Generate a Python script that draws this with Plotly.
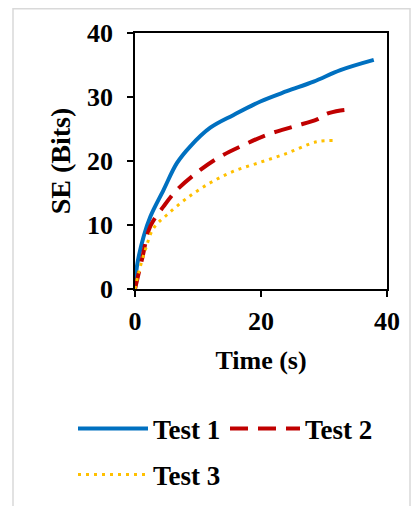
import plotly.graph_objects as go

t1_x = [0, 0.3, 1.37, 2.43, 4.54, 6.67, 8.78, 11.95, 15.65, 19.9, 24.1, 28.35, 32.6, 37.9]
t1_y = [0, 3.5, 8.2, 11.3, 15.5, 19.7, 22.3, 25.2, 27.2, 29.3, 30.9, 32.4, 34.2, 35.8]

t2_x = [0, 1.1, 2.43, 4.54, 6.67, 10.37, 13.54, 17.24, 20.95, 25.2, 28.9, 30.5, 32.6, 34.6]
t2_y = [0, 4.6, 9.8, 12.9, 15.5, 18.6, 20.7, 22.5, 24.1, 25.4, 26.5, 27.4, 27.9, 28.1]

t3_x = [0, 0.57, 1.63, 2.95, 5.08, 8.25, 11.95, 15.65, 19.9, 24.1, 27.8, 29.4, 31.5]
t3_y = [0, 2.5, 6.1, 9.5, 11.6, 14.2, 16.6, 18.4, 19.8, 21.2, 22.7, 23.1, 23.2]

names = ["Test 1", "Test 2", "Test 3"]
colors = ["#0070C0", "#C00000", "#FFC000"]

FONT = "Liberation Serif"
W, H = 411, 498
L, T = 127, 25
PW, PH = 252, 256


def px(xf):
    return (xf - L) / PW


def py(yf):
    return (T + PH - yf) / PH


fig = go.Figure()
fig.add_trace(go.Scatter(x=t1_x, y=t1_y, mode="lines", name=names[0],
                         line=dict(color=colors[0], width=4, shape="spline"), legend="legend"))
fig.add_trace(go.Scatter(x=t2_x, y=t2_y, mode="lines", name=names[1],
                         line=dict(color=colors[1], width=4, dash="18px,10px", shape="spline"), legend="legend3"))
fig.add_trace(go.Scatter(x=t3_x, y=t3_y, mode="lines", name=names[2],
                         line=dict(color=colors[2], width=3, dash="3px,5px", shape="spline"), legend="legend2"))

axis_common = dict(
    showgrid=False, zeroline=False, showline=True, linecolor="black", linewidth=1.5,
    mirror=True, ticks="outside", ticklen=6, tickwidth=1.5, tickcolor="black",
    tickfont=dict(family=FONT, size=26, color="black", weight="bold"),
)

legfont = dict(family=FONT, size=27, color="black", weight="bold")
leg_common = dict(orientation="h", xanchor="left", yanchor="top", font=legfont,
                  itemwidth=70, bgcolor="rgba(0,0,0,0)", borderwidth=0)

fig.update_layout(
    width=W, height=H,
    margin=dict(l=L, r=W - L - PW, t=T, b=H - T - PH, autoexpand=False),
    paper_bgcolor="white", plot_bgcolor="white",
    showlegend=True,
    xaxis=dict(range=[0, 40], dtick=20, tick0=0, ticklabelstandoff=2,
               title=dict(text="Time (s)", font=dict(family=FONT, size=26, color="black", weight="bold"), standoff=16),
               **axis_common),
    yaxis=dict(range=[0, 40], dtick=10, tick0=0, ticklabelstandoff=9,
               title=dict(text="SE (Bits)", font=dict(family=FONT, size=28, color="black", weight="bold"), standoff=8),
               **axis_common),
    legend=dict(x=px(65), y=py(396.5), **leg_common),
    legend3=dict(x=px(217), y=py(396.5), **leg_common),
    legend2=dict(x=px(65), y=py(442.5), **leg_common),
    shapes=[dict(type="rect", xref="paper", yref="paper",
                 x0=px(5), x1=px(402), y0=py(520), y1=py(0.8),
                 line=dict(color="#d9d9d9", width=1.5), fillcolor="rgba(0,0,0,0)", layer="below")],
)

fig.write_html("out.html")
